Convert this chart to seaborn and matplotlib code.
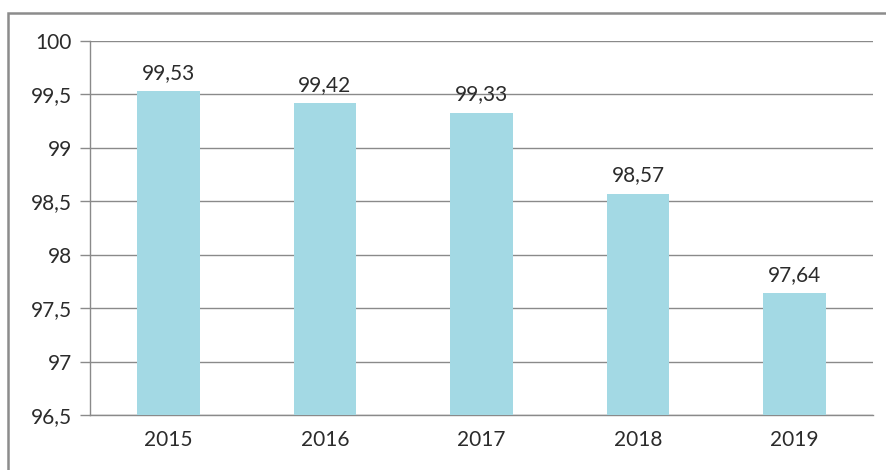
import pandas as pd
import seaborn as sns
import matplotlib.pyplot as plt
from matplotlib.patches import Rectangle
from matplotlib.ticker import FuncFormatter, FixedLocator

years = ["2015", "2016", "2017", "2018", "2019"]
values = [99.53, 99.42, 99.33, 98.57, 97.64]
y_ticks = [96.5, 97, 97.5, 98, 98.5, 99, 99.5, 100]

df = pd.DataFrame({"year": years, "value": values})

sns.set_style("white")
plt.rcParams["font.family"] = ["Lato", "DejaVu Sans"]

fig = plt.figure(figsize=(8.86, 4.70), dpi=100)
ax = fig.add_axes([90 / 886, 55 / 470, 783 / 886, 374 / 470])

bar_color = "#a3d9e4"
sns.barplot(data=df, x="year", y="value", color=bar_color, width=0.4,
            saturation=1, ax=ax, zorder=3)
for p in ax.patches:
    p.set_edgecolor("none")

ax.set_ylim(96.5, 100)
ax.set_xlim(-0.5, len(years) - 0.5)
ax.yaxis.set_major_locator(FixedLocator(y_ticks))
ax.yaxis.set_major_formatter(FuncFormatter(lambda v, _: f"{v:g}".replace(".", ",")))
ax.grid(axis="y", color="#8a8a8a", lw=1, zorder=0)
ax.set_axisbelow(True)

# category separators as ticks on x axis
ax.xaxis.set_minor_locator(FixedLocator([i - 0.5 for i in range(len(years) + 1)]))
ax.tick_params(axis="x", which="major", length=0, pad=11, labelsize=15, labelcolor="#2b2b2b")
ax.tick_params(axis="x", which="minor", length=7, width=1, color="#8a8a8a", direction="out")
ax.tick_params(axis="y", length=7, width=1, color="#8a8a8a", direction="out",
               pad=6, labelsize=15, labelcolor="#2b2b2b", left=True)

ax.set_xlabel("")
ax.set_ylabel("")
for side in ["top", "right"]:
    ax.spines[side].set_visible(False)
for side in ["left", "bottom"]:
    ax.spines[side].set_color("#8a8a8a")
    ax.spines[side].set_linewidth(1)

for i, v in enumerate(values):
    ax.annotate(f"{v:.2f}".replace(".", ","), (i, v), xytext=(0, 6),
                textcoords="offset points", ha="center", va="bottom",
                fontsize=15, color="#2b2b2b")

# outer chart frame
fig.patches.append(Rectangle((8 / 886, -0.2), 1.0, (470 - 13) / 470 + 0.2,
                             transform=fig.transFigure, fill=False,
                             edgecolor="#8c8c8c", lw=1.8, zorder=0))

fig.savefig("out.png", dpi=100)
